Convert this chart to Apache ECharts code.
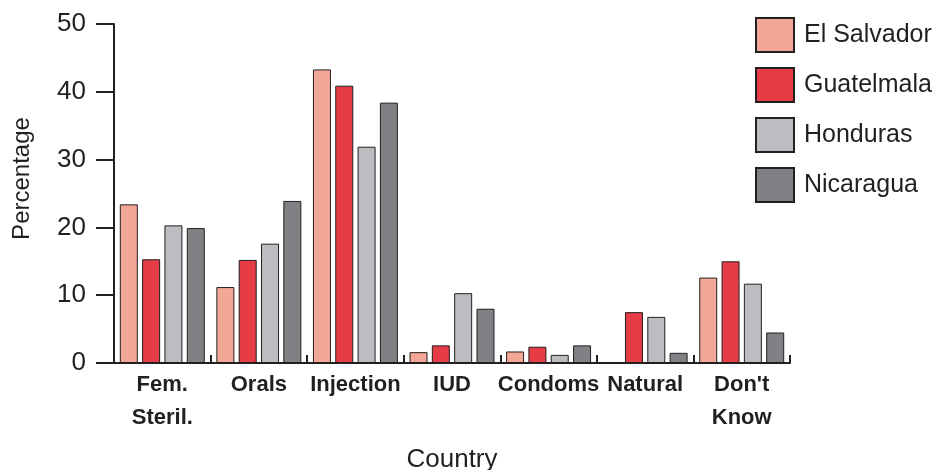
<!DOCTYPE html>
<html>
<head>
<meta charset="utf-8">
<script src="https://cdn.jsdelivr.net/npm/echarts@6/dist/echarts.min.js"></script>
<style>html,body{margin:0;padding:0;background:#fff;}#c{width:945px;height:470px;}</style>
</head>
<body>
<div id="c"></div>
<script>
const categories = ['Fem.\nSteril.', 'Orals', 'Injection', 'IUD', 'Condoms', 'Natural', "Don't\nKnow"];
const seriesNames = ['El Salvador', 'Guatelmala', 'Honduras', 'Nicaragua'];
const elSalvador = [23.4, 11.2, 43.3, 1.6, 1.7, 0, 12.6];
const guatemala  = [15.3, 15.2, 40.9, 2.6, 2.4, 7.5, 15.0];
const honduras   = [20.3, 17.6, 31.9, 10.3, 1.2, 6.8, 11.7];
const nicaragua  = [19.9, 23.9, 38.4, 8.0, 2.6, 1.5, 4.5];
const yTicks = [0, 10, 20, 30, 40, 50];

const seriesData = [elSalvador, guatemala, honduras, nicaragua];
const colors = ['#f3a797', '#e53c45', '#bcbdc1', '#808184'];
const ink = '#231f20';
const font = 'Liberation Sans, Arial, sans-serif';

const chart = echarts.init(document.getElementById('c'), null, {renderer: 'canvas'});
chart.setOption({
  animation: false,
  backgroundColor: '#fff',
  textStyle: {fontFamily: font, color: ink},
  grid: {left: 114, right: 155, top: 24, bottom: 107, containLabel: false, outerBoundsMode: 'none'},
  legend: {
    orient: 'vertical', left: 755, top: 17, padding: 0,
    itemWidth: 38, itemHeight: 34, itemGap: 14,
    icon: 'rect',
    data: seriesNames,
    textStyle: {fontSize: 25, color: ink, fontFamily: font, padding: [0, 0, 0, 5], lineHeight: 34}
  },
  xAxis: {
    type: 'category',
    data: categories,
    name: 'Country',
    nameLocation: 'middle',
    nameGap: 84,
    nameTextStyle: {fontSize: 26, color: ink, fontFamily: font},
    axisLine: {lineStyle: {color: ink, width: 2}},
    axisTick: {show: true, inside: true, length: 8, lineStyle: {color: ink, width: 2}},
    axisLabel: {fontSize: 22, fontWeight: 'bold', color: ink, fontFamily: font, lineHeight: 33, margin: 5, interval: 0}
  },
  yAxis: {
    type: 'value',
    min: yTicks[0], max: yTicks[yTicks.length - 1], interval: 10,
    name: 'Percentage',
    nameLocation: 'middle',
    nameGap: 80,
    nameRotate: 90,
    nameTextStyle: {fontSize: 24, color: ink, fontFamily: font, padding: [0, 0, 0, 30]},
    axisLine: {show: true, lineStyle: {color: ink, width: 2}},
    axisTick: {show: true, length: 18, lineStyle: {color: ink, width: 2}},
    axisLabel: {fontSize: 26, color: ink, fontFamily: font, margin: 28},
    splitLine: {show: false}
  },
  series: seriesNames.map((n, i) => ({
    name: n,
    type: 'bar',
    data: seriesData[i],
    barWidth: 18,
    barGap: '24%',
    itemStyle: {color: colors[i], borderColor: ink, borderWidth: 1}
  }))
});
</script>
</body>
</html>
